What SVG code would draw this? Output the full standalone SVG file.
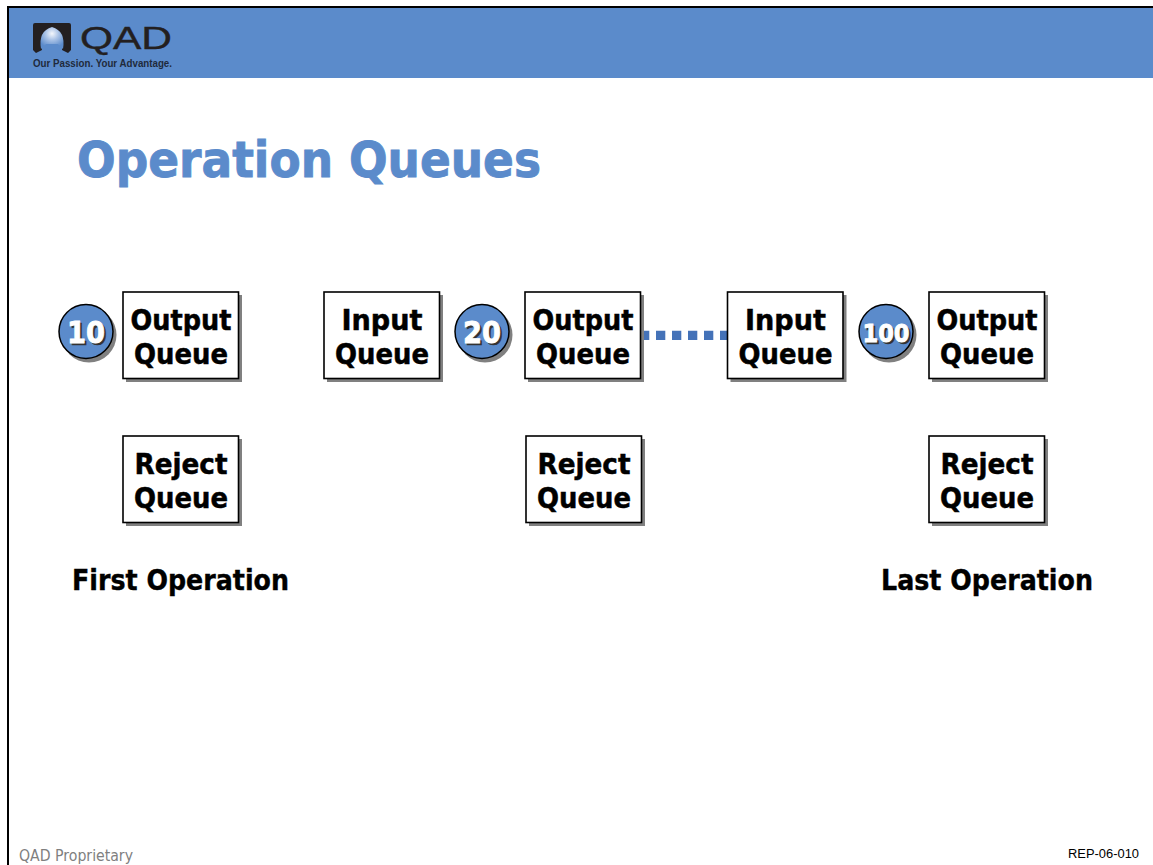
<svg xmlns="http://www.w3.org/2000/svg" width="1153" height="865" viewBox="0 0 1153 865">
<defs>
<radialGradient id="glow" cx="0.5" cy="0.3" r="0.65"><stop offset="0" stop-color="#f4f7fc"/><stop offset="0.45" stop-color="#a9c2e6"/><stop offset="1" stop-color="#5b8bcb"/></radialGradient>
</defs>
<style>
text{font-family:"DejaVu Sans","Liberation Sans",sans-serif}
.box{fill:#fff;stroke:#000;stroke-width:1.6}
.sh{fill:#808080}
.q{font-weight:700;font-size:28px;text-anchor:middle;fill:#000;stroke:#000;stroke-width:.5}
.disc{fill:#5b8bcb;stroke:#000;stroke-width:1.5}
.n{font-weight:700;text-anchor:middle;fill:#fff;stroke:#fff;stroke-width:.9}
.ns{font-weight:700;text-anchor:middle;fill:#333;stroke:#333;stroke-width:.6}
.cap{font-weight:700;font-size:28px;text-anchor:middle;fill:#000;stroke:#000;stroke-width:.4}
</style>
<rect width="1153" height="865" fill="#fff"/>
<g id="header">
<rect x="8" y="7" width="1145" height="71" fill="#5b8bcb"/>
<rect x="7" y="6" width="1146" height="2" fill="#000"/>
<rect x="7" y="6" width="2" height="859" fill="#000"/>
<path d="M33 25Q33 23 35 23H69Q71 23 71 25V50L68 53L62 50Q65 32 52 28Q39 32 42 50L36 53L33 50Z" fill="#231f20"/>
<path d="M41 49Q38 31 52 27Q66 31 63 49L58 44H46Z" fill="url(#glow)"/>
<text x="80" y="49" font-size="31" textLength="92" lengthAdjust="spacingAndGlyphs" style="font-family:'Liberation Sans',sans-serif" fill="#231f20" stroke="#231f20" stroke-width=".4">QAD</text>
<text x="33" y="67" font-size="11" font-weight="700" textLength="139" lengthAdjust="spacingAndGlyphs" style="font-family:'Liberation Sans',sans-serif" fill="#1f2a3c">Our Passion. Your Advantage.</text>
</g>
<text id="title" x="77" y="177" font-size="50" font-weight="700" fill="#5b8bcb" stroke="#5b8bcb" stroke-width=".9" textLength="464" lengthAdjust="spacingAndGlyphs">Operation Queues</text>
<g id="connectors">
<line x1="640" y1="335.300" x2="728" y2="335.300" stroke="#4472b8" stroke-width="9.300" stroke-dasharray="9.300 6.700"/>
</g>
<g id="disc10"><circle cx="89" cy="335" r="27.500" class="sh"/><circle cx="86" cy="331.500" r="27" class="disc"/><text x="86" y="343" font-size="31" class="ns" transform="translate(2 2)" textLength="38" lengthAdjust="spacingAndGlyphs">10</text><text x="86" y="343" font-size="31" class="n" textLength="38" lengthAdjust="spacingAndGlyphs">10</text></g>
<g id="disc20"><circle cx="485" cy="335" r="27.500" class="sh"/><circle cx="482" cy="331.500" r="27" class="disc"/><text x="482" y="343" font-size="31" class="ns" transform="translate(2 2)" textLength="38" lengthAdjust="spacingAndGlyphs">20</text><text x="482" y="343" font-size="31" class="n" textLength="38" lengthAdjust="spacingAndGlyphs">20</text></g>
<g id="disc100"><circle cx="889" cy="335" r="27.500" class="sh"/><circle cx="886" cy="331.500" r="27" class="disc"/><text x="886" y="342" font-size="25" class="ns" transform="translate(2 2)" textLength="47" lengthAdjust="spacingAndGlyphs">100</text><text x="886" y="342" font-size="25" class="n" textLength="47" lengthAdjust="spacingAndGlyphs">100</text></g>
<g id="out10"><rect x="126" y="295" width="116" height="87" class="sh"/><rect x="123" y="292" width="115.500" height="86.500" class="box"/><text x="181" y="330" class="q" textLength="101" lengthAdjust="spacingAndGlyphs">Output</text><text x="181" y="364" class="q" textLength="94" lengthAdjust="spacingAndGlyphs">Queue</text></g>
<g id="rej10"><rect x="126" y="439" width="116" height="87" class="sh"/><rect x="123" y="436" width="115.500" height="86.500" class="box"/><text x="181" y="474" class="q" textLength="93" lengthAdjust="spacingAndGlyphs">Reject</text><text x="181" y="508" class="q" textLength="94" lengthAdjust="spacingAndGlyphs">Queue</text></g>
<g id="in20"><rect x="327" y="295" width="116" height="87" class="sh"/><rect x="324" y="292" width="115.500" height="86.500" class="box"/><text x="382" y="330" class="q" textLength="81" lengthAdjust="spacingAndGlyphs">Input</text><text x="382" y="364" class="q" textLength="94" lengthAdjust="spacingAndGlyphs">Queue</text></g>
<g id="out20"><rect x="528" y="295" width="116" height="87" class="sh"/><rect x="525" y="292" width="115.500" height="86.500" class="box"/><text x="583" y="330" class="q" textLength="101" lengthAdjust="spacingAndGlyphs">Output</text><text x="583" y="364" class="q" textLength="94" lengthAdjust="spacingAndGlyphs">Queue</text></g>
<g id="rej20"><rect x="529" y="439" width="116" height="87" class="sh"/><rect x="526" y="436" width="115.500" height="86.500" class="box"/><text x="584" y="474" class="q" textLength="93" lengthAdjust="spacingAndGlyphs">Reject</text><text x="584" y="508" class="q" textLength="94" lengthAdjust="spacingAndGlyphs">Queue</text></g>
<g id="in100"><rect x="730.500" y="295" width="116" height="87" class="sh"/><rect x="727.500" y="292" width="115.500" height="86.500" class="box"/><text x="785.500" y="330" class="q" textLength="81" lengthAdjust="spacingAndGlyphs">Input</text><text x="785.500" y="364" class="q" textLength="94" lengthAdjust="spacingAndGlyphs">Queue</text></g>
<g id="out100"><rect x="932" y="295" width="116" height="87" class="sh"/><rect x="929" y="292" width="115.500" height="86.500" class="box"/><text x="987" y="330" class="q" textLength="101" lengthAdjust="spacingAndGlyphs">Output</text><text x="987" y="364" class="q" textLength="94" lengthAdjust="spacingAndGlyphs">Queue</text></g>
<g id="rej100"><rect x="932" y="439" width="116" height="87" class="sh"/><rect x="929" y="436" width="115.500" height="86.500" class="box"/><text x="987" y="474" class="q" textLength="93" lengthAdjust="spacingAndGlyphs">Reject</text><text x="987" y="508" class="q" textLength="94" lengthAdjust="spacingAndGlyphs">Queue</text></g>
<text x="180.500" y="590" class="cap" textLength="217" lengthAdjust="spacingAndGlyphs">First Operation</text>
<text x="987" y="590" class="cap" textLength="212" lengthAdjust="spacingAndGlyphs">Last Operation</text>
<text x="19" y="861" font-size="16" fill="#7f7f7f" textLength="114" lengthAdjust="spacingAndGlyphs">QAD Proprietary</text>
<text x="1068" y="858" font-size="12.500" style="font-family:'Liberation Sans',sans-serif" fill="#000" textLength="71" lengthAdjust="spacingAndGlyphs">REP-06-010</text>
</svg>
